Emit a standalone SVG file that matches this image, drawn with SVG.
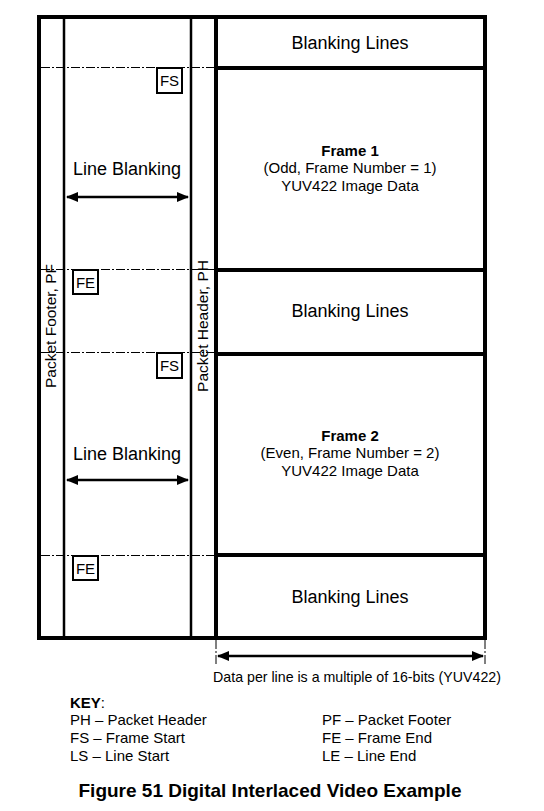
<svg xmlns="http://www.w3.org/2000/svg" width="544" height="811" viewBox="0 0 544 811">
<style>
text{font-family:"Liberation Sans",Arial,sans-serif;fill:#000}
.thick{fill:none;stroke:#000;stroke-width:4}
.thin{fill:none;stroke:#000;stroke-width:2.5}
.dash{stroke:#000;stroke-width:1;stroke-dasharray:9 2 2 2}
.box{fill:#fff;stroke:#000;stroke-width:2}
.lbl{font-size:18px;text-anchor:middle}
.bl{font-size:18px;text-anchor:middle}
.fr{font-size:15px;text-anchor:middle}
.bx{font-size:15px;text-anchor:middle}
.rot{font-size:15.5px;text-anchor:middle}
.key{font-size:15px}
</style>
<defs>
<marker id="ah" viewBox="0 0 12 10" refX="11" refY="5" markerWidth="12" markerHeight="10" markerUnits="userSpaceOnUse" orient="auto-start-reverse">
<path d="M0,0 L12,5 L0,10 z" fill="#000"/>
</marker>
</defs>
<g id="frame-structure">
<rect class="thick" x="39" y="17" width="446" height="621"/>
<line class="thin" x1="64" y1="17" x2="64" y2="638"/>
<line class="thin" x1="191" y1="17" x2="191" y2="638"/>
<line class="thick" x1="216" y1="17" x2="216" y2="638"/>
</g>
<g id="connectors">
<line class="dash" x1="41" y1="67.5" x2="216" y2="67.5"/>
<line class="dash" x1="41" y1="269.5" x2="216" y2="269.5"/>
<line class="dash" x1="41" y1="352.5" x2="216" y2="352.5"/>
<line class="dash" x1="41" y1="555.5" x2="216" y2="555.5"/>
<line stroke="#000" stroke-width="2.5" x1="67" y1="197" x2="188" y2="197" marker-start="url(#ah)" marker-end="url(#ah)"/>
<line stroke="#000" stroke-width="2.5" x1="67" y1="480" x2="188" y2="480" marker-start="url(#ah)" marker-end="url(#ah)"/>
<line class="dash" x1="216" y1="640" x2="216" y2="666"/>
<line class="dash" x1="485" y1="640" x2="485" y2="666"/>
<line stroke="#000" stroke-width="2.5" x1="218" y1="656" x2="483" y2="656" marker-start="url(#ah)" marker-end="url(#ah)"/>
</g>
<g id="blanking-top">
<text class="bl" x="350" y="49">Blanking Lines</text>
</g>
<g id="frame1">
<rect class="thick" x="216" y="68" width="269" height="202"/>
<text class="fr" x="350" y="156" font-weight="bold">Frame 1</text>
<text class="fr" x="350" y="173">(Odd, Frame Number = 1)</text>
<text class="fr" x="350" y="191">YUV422 Image Data</text>
</g>
<g id="blanking-mid">
<text class="bl" x="350" y="317">Blanking Lines</text>
</g>
<g id="frame2">
<rect class="thick" x="216" y="354" width="269" height="201"/>
<text class="fr" x="350" y="441" font-weight="bold">Frame 2</text>
<text class="fr" x="350" y="458">(Even, Frame Number = 2)</text>
<text class="fr" x="350" y="476">YUV422 Image Data</text>
</g>
<g id="blanking-bottom">
<text class="bl" x="350" y="603">Blanking Lines</text>
</g>
<g id="line-blanking-1"><text class="lbl" x="127" y="175">Line Blanking</text></g>
<g id="line-blanking-2"><text class="lbl" x="127" y="460">Line Blanking</text></g>
<g id="fs1"><rect class="box" x="157" y="68" width="25" height="25"/><text class="bx" x="169.5" y="86">FS</text></g>
<g id="fe1"><rect class="box" x="73" y="270" width="25" height="24"/><text class="bx" x="85.5" y="288">FE</text></g>
<g id="fs2"><rect class="box" x="157" y="353" width="25" height="25"/><text class="bx" x="169.5" y="371">FS</text></g>
<g id="fe2"><rect class="box" x="73" y="556" width="25" height="24"/><text class="bx" x="85.5" y="574">FE</text></g>
<g id="packet-footer"><text class="rot" transform="translate(56,326) rotate(-90)" x="0" y="0">Packet Footer, PF</text></g>
<g id="packet-header"><text class="rot" transform="translate(208,326) rotate(-90)" x="0" y="0">Packet Header, PH</text></g>
<g id="data-label"><text x="357" y="682" font-size="14.2" text-anchor="middle">Data per line is a multiple of 16-bits (YUV422)</text></g>
<g id="key">
<text class="key" x="70" y="708" font-weight="bold">KEY<tspan font-weight="normal">:</tspan></text>
<text class="key" x="70" y="725">PH – Packet Header</text>
<text class="key" x="70" y="743">FS – Frame Start</text>
<text class="key" x="70" y="761">LS – Line Start</text>
<text class="key" x="322" y="725">PF – Packet Footer</text>
<text class="key" x="322" y="743">FE – Frame End</text>
<text class="key" x="322" y="761">LE – Line End</text>
</g>
<g id="title"><text x="270" y="797" font-size="19" font-weight="bold" text-anchor="middle">Figure 51 Digital Interlaced Video Example</text></g>
</svg>
